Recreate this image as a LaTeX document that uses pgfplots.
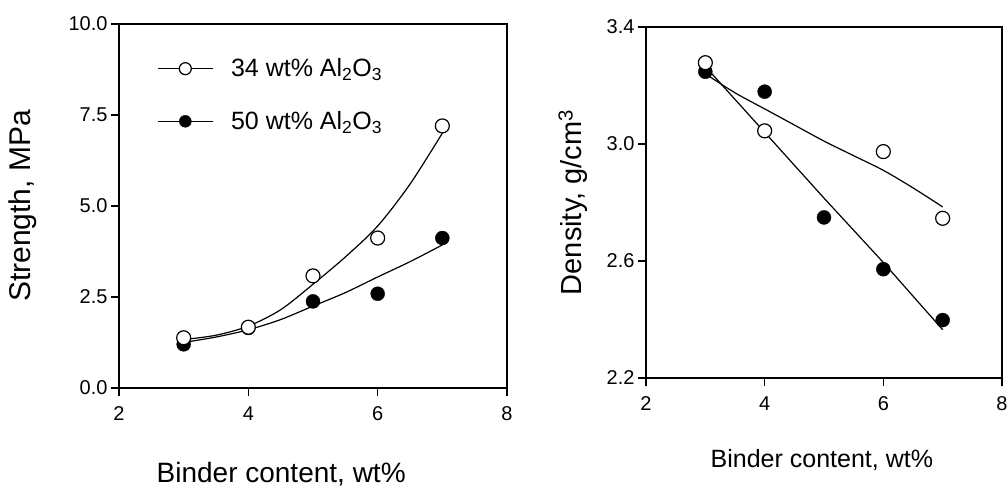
\documentclass[border=0pt]{standalone}
\usepackage{pgfplots}
\pgfplotsset{compat=1.18}
\usepackage{fontspec}
\setmainfont{Liberation Sans}

\pgfplotstableread{
x y
3 1.38
4 1.67
5 3.08
6 4.12
7 7.20
}\openS
\pgfplotstableread{
x y
3 1.20
4 1.65
5 2.38
6 2.59
7 4.12
}\fillS
\pgfplotstableread{
x y
3.0 1.33
3.5 1.45
4.0 1.70
4.5 2.15
5.0 2.85
5.5 3.60
6.0 4.45
6.5 5.60
7.0 7.00
}\openFit
\pgfplotstableread{
x y
3.0 1.25
3.5 1.40
4.0 1.60
4.5 1.88
5.0 2.25
5.5 2.62
6.0 3.05
6.5 3.47
7.0 3.93
}\fillFit
\pgfplotstableread{
x y
3 3.278
4 3.045
6 2.974
7 2.746
}\openD
\pgfplotstableread{
x y
3 3.247
4 3.179
5 2.749
6 2.572
7 2.398
}\fillD
\pgfplotstableread{
x y
3.0 3.240
3.5 3.175
4.0 3.120
4.5 3.065
5.0 3.010
5.5 2.960
6.0 2.910
6.5 2.850
7.0 2.785
}\openDFit
\pgfplotstableread{
x y
3.0 3.265
4.0 3.040
5.0 2.815
6.0 2.595
7.0 2.365
}\fillDFit

\pgfplotsset{
  mystyle/.style={
    scale only axis,
    anchor=south west,
    xmin=2, xmax=8,
    xtick={2,4,6,8},
    tick pos=left,
    tick align=outside,
    major tick length=8pt,
    axis line style={line width=1.3pt},
    every tick/.style={line width=1.2pt, black},
    ticklabel style={font=\fontsize{20}{24}\selectfont},
    xticklabel style={yshift=-7pt},
    /pgf/number format/assume math mode=true,
    yticklabel style={/pgf/number format/.cd, fixed, fixed zerofill, precision=1},
    clip=false,
  },
  fitline/.style={black, line width=1.2pt, no markers, smooth},
  openmk/.style={only marks, mark=*, mark size=7pt, mark options={fill=white, draw=black, line width=1.2pt}},
  fillmk/.style={only marks, mark=*, mark size=7pt, mark options={fill=black, draw=black}},
}

\begin{document}
\begin{tikzpicture}
\begin{axis}[mystyle,
  at={(119pt,100pt)}, width=388pt, height=364pt,
  ymin=0, ymax=10, ytick={0,2.5,5,7.5,10},
  ylabel={Strength, MPa},
  ylabel style={at={(axis description cs:-0.247,0.5)}, anchor=center, font=\fontsize{30}{36}\selectfont},
  xlabel={Binder content, wt\%},
  xlabel style={at={(axis description cs:0.418,-0.236)}, anchor=center, font=\fontsize{28}{34}\selectfont},
  legend cell align=left,
  legend style={draw=none, fill=none, at={(axis description cs:0.098,0.805)}, anchor=west,
    font=\fontsize{25}{30}\selectfont, row sep=33pt, inner sep=0pt,
    nodes={inner sep=0pt}},
  legend image code/.code={
    \draw[black, line width=1.2pt] (0pt,0pt) -- (55pt,0pt);
    \draw[#1] plot coordinates {(27.5pt,0pt)};
    \path (0pt,-2pt) (73pt,2pt);
  },
]
\addlegendimage{only marks, mark=*, mark size=6pt, mark options={fill=white, draw=black, line width=1.2pt}}
\addlegendentry{34 wt\% Al\textsubscript{2}O\textsubscript{3}}
\addlegendimage{only marks, mark=*, mark size=6pt, mark options={fill=black, draw=black}}
\addlegendentry{50 wt\% Al\textsubscript{2}O\textsubscript{3}}
\addplot[fitline, forget plot] table {\openFit};
\addplot[fitline, forget plot] table {\fillFit};
\addplot[fillmk, forget plot] table {\fillS};
\addplot[openmk, forget plot] table {\openS};
\end{axis}

\begin{axis}[mystyle,
  at={(646pt,110pt)}, width=356pt, height=351pt,
  ymin=2.2, ymax=3.4, ytick={2.2,2.6,3.0,3.4},
  ylabel={Density, g/cm\textsuperscript{3}},
  ylabel style={at={(axis description cs:-0.205,0.5)}, anchor=center, font=\fontsize{29}{35}\selectfont},
  xlabel={Binder content, wt\%},
  xlabel style={at={(axis description cs:0.494,-0.234)}, anchor=center, font=\fontsize{25}{30}\selectfont},
]
\addplot[fitline] table {\openDFit};
\addplot[black, line width=1.2pt, no markers] table {\fillDFit};
\addplot[fillmk] table {\fillD};
\addplot[openmk] table {\openD};
\end{axis}
\pgfresetboundingbox
\path[use as bounding box] (0pt,0pt) rectangle (1007pt,488pt);
\end{tikzpicture}
\end{document}
